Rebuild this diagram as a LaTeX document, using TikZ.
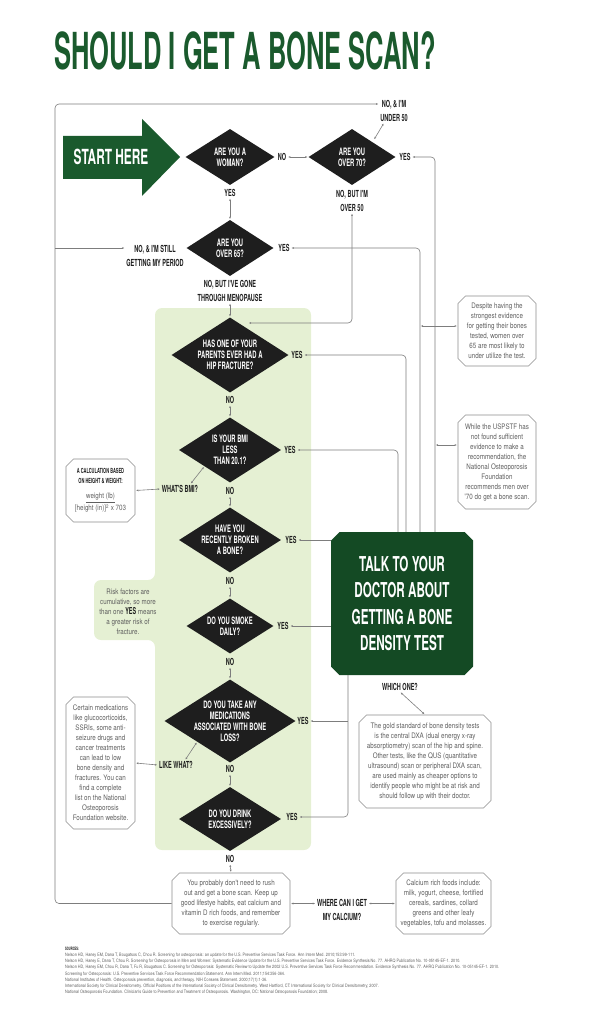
\documentclass[tikz,border=0pt]{standalone}
\usepackage{fontspec}
\usetikzlibrary{shapes.geometric,shapes.misc,arrows.meta}
\setmainfont{TeX Gyre Heros}
\newfontfamily\condbf{TeX Gyre Heros}[FakeStretch=0.57]
\newfontfamily\condrm{TeX Gyre Heros}[FakeStretch=0.82]
\newfontfamily\titlefont{TeX Gyre Heros}[FakeStretch=0.5]
\newcommand\hd{\condbf\bfseries}
\newcommand\nt{\condrm\mdseries\color{notetext}\fontsize{7.6}{10}\selectfont}
\newcommand\smallhd{\hd\color{ink}\fontsize{7}{10}\selectfont}
\definecolor{titlegreen}{RGB}{26,90,45}
\definecolor{boxgreen}{RGB}{20,74,36}
\definecolor{panel}{RGB}{229,240,211}
\definecolor{ink}{RGB}{30,30,30}
\definecolor{wire}{RGB}{125,125,125}
\definecolor{boxline}{RGB}{140,140,140}
\definecolor{notetext}{RGB}{95,95,95}

\begin{document}
\begin{tikzpicture}[x=1pt, y=-1pt,
	wee/.tip={Stealth[length=2.2pt,width=1.9pt]},
	wire/.style={draw=wire, line width=0.6pt},
	both/.style={wire, wee-wee, shorten <=1pt, shorten >=1pt},
	toLab/.style={wire, rounded corners=4pt, wee-, shorten <=1pt},
	ask/.style={diamond, fill=ink, inner sep=0pt},
	askText/.style={text=white, font=\hd\fontsize{10.2}{11}\selectfont, align=center, inner sep=0pt},
	ans/.style={text=ink, font=\hd\fontsize{9.7}{14}\selectfont, align=center, inner sep=1pt},
	note/.style={chamfered rectangle, chamfered rectangle xsep=4pt, draw=boxline, line width=0.6pt, inner sep=0pt, align=center, text=notetext, font=\nt},
	talk/.style={chamfered rectangle, chamfered rectangle xsep=5pt, fill=boxgreen, inner sep=0pt, align=center, text=white, font=\hd\fontsize{20.5}{26.5}\selectfont}]

		\useasboundingbox (0,0) rectangle (594,1024);

		\node[anchor=base west, inner sep=0pt, text=titlegreen, font=\titlefont\bfseries\fontsize{51}{51}\selectfont] (title) at (54,70) {SHOULD I GET A BONE SCAN?};

		% light green band behind the risk questions
		\fill[panel, rounded corners=7pt] (155,308) -- (311,308) -- (311,850) -- (155,850) -- (155,640) -- (94,640) -- (94,580) -- (155,580) -- cycle;

		\fill[titlegreen] (63,136) -- (142,136) -- (142,119) -- (180,157) -- (142,196) -- (142,179) -- (63,179) -- cycle;
		\node[text=white, font=\hd\fontsize{20.8}{22}\selectfont] (start) at (111,157) {START HERE};

		% questions
		\node[ask, minimum width=89pt, minimum height=56pt, label={[askText]center:{ARE YOU A\\WOMAN?}}] (woman) at (230,157) {};
		\node[ask, minimum width=87pt, minimum height=56pt, label={[askText]center:{ARE YOU\\OVER 70?}}] (over70) at (352,157) {};
		\node[ask, minimum width=87pt, minimum height=56pt, label={[askText]center:{ARE YOU\\OVER 65?}}] (over65) at (230,248) {};
		\node[ask, minimum width=117pt, minimum height=75pt, label={[askText]center:{HAS ONE OF YOUR\\PARENTS EVER HAD A\\HIP FRACTURE?}}] (parent) at (230,355) {};
		\node[ask, minimum width=102pt, minimum height=65pt, label={[askText]center:{IS YOUR BMI\\LESS\\THAN 20.1?}}] (bmi) at (230,450) {};
		\node[ask, minimum width=102pt, minimum height=65pt, label={[askText]center:{HAVE YOU\\RECENTLY BROKEN\\A BONE?}}] (broken) at (230,540) {};
		\node[ask, minimum width=87pt, minimum height=55pt, label={[askText]center:{DO YOU SMOKE\\DAILY?}}] (smoke) at (230,626) {};
		\node[ask, minimum width=131pt, minimum height=83pt, label={[askText]center:{DO YOU TAKE ANY\\MEDICATIONS\\ASSOCIATED WITH BONE\\LOSS?}}] (meds) at (230,721) {};
		\node[ask, minimum width=102pt, minimum height=64pt, label={[askText]center:{DO YOU DRINK\\EXCESSIVELY?}}] (drink) at (230,819) {};

		% answers
		\node[ans] (lNo1) at (282,157) {NO};
		\node[ans] (lYesW) at (230,193) {YES};
		\node[ans] (lUnder) at (394,111) {NO, \& I'M\\UNDER 50};
		\node[ans] (lYes70) at (405,157) {YES};
		\node[ans] (lOver50) at (352,201) {NO, BUT I'M\\OVER 50};
		\node[ans] (lYes65) at (284,248) {YES};
		\node[ans] (lPeriod) at (155,256) {NO, \& I'M STILL\\GETTING MY PERIOD};
		\node[ans] (lMeno) at (230,291) {NO, BUT I'VE GONE\\THROUGH MENOPAUSE};
		\node[ans] (lYesPar) at (297,355) {YES};
		\node[ans] (lNoPar) at (230,400) {NO};
		\node[ans] (lYesBMI) at (290,450) {YES};
		\node[ans] (lWhat) at (180,489) {WHAT'S BMI?};
		\node[ans] (lNoBMI) at (230,491) {NO};
		\node[ans] (lYesBro) at (291,540) {YES};
		\node[ans] (lNoBro) at (230,581) {NO};
		\node[ans] (lYesSmo) at (283,626) {YES};
		\node[ans] (lNoSmo) at (230,662) {NO};
		\node[ans] (lYesMed) at (303,721) {YES};
		\node[ans] (lLike) at (176,765) {LIKE WHAT?};
		\node[ans] (lNoMed) at (230,769) {NO};
		\node[ans] (lYesDri) at (292,817) {YES};
		\node[ans] (lNoDri) at (230,859) {NO};
		\node[ans] (lWhich) at (400,687) {WHICH ONE?};
		\node[ans] (lWhere) at (342,909.5) {WHERE CAN I GET\\MY CALCIUM?};

		\node[talk, minimum width=142pt, minimum height=143pt] (talk) at (402,603.5) {TALK TO YOUR\\DOCTOR ABOUT\\GETTING A BONE\\DENSITY TEST};

		% side notes
		\node[note, minimum width=69pt, minimum height=63pt] (bmiNote) at (100.5,490.5) {\smallhd A CALCULATION BASED\\\smallhd ON HEIGHT \& WEIGHT:\\[5pt]\underline{weight (lb)}\\[1pt]\mbox{[height (in)]\textsuperscript{2} x 703}};
		\node[note, minimum width=69pt, minimum height=132pt] (medNote) at (100.5,763) {Certain medications\\like glucocorticoids,\\SSRIs, some anti-\\seizure drugs and\\cancer treatments\\can lead to low\\bone density and\\fractures. You can\\find a complete\\list on the National\\Osteoporosis\\Foundation website.};
		\node[note, minimum width=78pt, minimum height=70pt] (despite) at (497,331) {Despite having the\\strongest evidence\\for getting their bones\\tested, women over\\65 are most likely to\\under utilize the test.};
		\node[note, minimum width=78pt, minimum height=94pt] (uspstf) at (497,462) {While the USPSTF has\\not found sufficient\\evidence to make a\\recommendation, the\\National Osteoporosis\\Foundation\\recommends men over\\'70 do get a bone scan.};
		\node[note, minimum width=132pt, minimum height=93pt] (dxa) at (425,761.5) {The gold standard of bone density tests\\is the central DXA (dual energy x-ray\\absorptiometry) scan of the hip and spine.\\Other tests, like the QUS (quantitative\\ultrasound) scan or peripheral DXA scan,\\are used mainly as cheaper options to\\identify people who might be at risk and\\should follow up with their doctor.};
		\node[note, minimum width=118pt, minimum height=61pt] (rush) at (231,903.5) {You probably don't need to rush\\out and get a bone scan. Keep up\\good lifestye habits, eat calcium and\\vitamin D rich foods, and remember\\to exercise regularly.};
		\node[note, minimum width=95pt, minimum height=61pt] (calcium) at (443.5,903.5) {Calcium rich foods include:\\milk, yogurt, cheese, fortified\\cereals, sardines, collard\\greens and other leafy\\vegetables, tofu and molasses.};
		\node[align=center, inner sep=0pt, font=\nt] (risk) at (128,612) {Risk factors are\\cumulative, so more\\than one \mbox{\hd\color{ink}\fontsize{9.5}{10}\selectfont YES} means\\a greater risk of\\fracture.};

		% turning points of the long lines
		\coordinate (topL) at (55,104);
		\coordinate (perL) at (55,248);
		\coordinate (botL) at (55,903.5);
		\coordinate (r70) at (435,157);
		\coordinate (r65) at (420,248);
		\coordinate (rPar) at (406,355);
		\coordinate (rBMI) at (398,450);
		\coordinate (rMed) at (348,721);
		\coordinate (rDri) at (348,817);
		\coordinate (o50) at (352,323);
		\coordinate (o50end) at (248,323);
		\coordinate (d65) at (420,326);
		\coordinate (d70) at (435,445);

		\draw[toLab] (lUnder.west |- topL) -- (topL) -- (botL) -- (rush.west);
		\draw[toLab] (lPeriod.west |- perL) -- (perL);
		\draw[toLab] (lYes70.east) -- (r70) -- (r70 |- talk.north);
		\draw[toLab] (lYes65.east) -- (r65) -- (r65 |- talk.north);
		\draw[toLab] (lYesPar.east) -- (rPar) -- (rPar |- talk.north);
		\draw[toLab] (lYesBMI.east) -- (rBMI) -- (rBMI |- talk.north);
		\draw[toLab] (lYesBro.east) -- (lYesBro.east -| talk.west);
		\draw[toLab] (lYesSmo.east) -- (lYesSmo.east -| talk.west);
		\draw[toLab] (lYesDri.east) -- (rDri) -- (rDri |- talk.south);
		\draw[toLab] (lYesMed.east) -- (rMed);
		\draw[both, rounded corners=4pt] (lOver50.south) -- (o50) -- (o50end);
		\draw[both] (d65) -- (d65 -| despite.west);
		\draw[both] (d70) -- (d70 -| uspstf.west);

		\draw[both] (lNo1.east) -- (over70.west);
		\draw[both] ([yshift=3pt]over70.north east) -- ([xshift=-10pt]lUnder.south);
		\draw[both] (lYesW.south) -- (over65.north);
		\draw[both] (lMeno.south) -- (parent.north);
		\draw[both] (lNoPar.south) -- (bmi.north);
		\draw[both] (lNoBMI.south) -- (broken.north);
		\draw[both] (lNoBro.south) -- (smoke.north);
		\draw[both] (lNoSmo.south) -- (meds.north);
		\draw[both] (lNoMed.south) -- (drink.north);
		\draw[both] (lNoDri.south) -- (rush.north);
		\draw[both] (bmi.south west) -- ([xshift=-9pt]lWhat.north east);
		\draw[both] (lWhat.west) -- (bmiNote.east);
		\draw[both] (meds.south west) -- ([xshift=-9pt]lLike.north east);
		\draw[both] (lLike.west) -- (medNote.east);
		\draw[both] (lWhich.south) -- (dxa.north);
		\draw[both] (rush.east) -- (rush.east -| lWhere.west);
		\draw[both] (rush.east -| lWhere.east) -- (rush.east -| calcium.west);

		\node[anchor=north west, align=left, inner sep=0pt, font=\condrm\color{notetext}\fontsize{4.6}{6.1}\selectfont] (sources) at (65,947) {\mbox{\hd\color{ink}SOURCES:}\\
Nelson HD, Haney EM, Dana T, Bougatsos C, Chou R. Screening for osteoporosis: an update for the U.S. Preventive Services Task Force. Ann Intern Med. 2010;153:99-111.\\
Nelson HD, Haney E, Dana T, Chou R. Screening for Osteoporosis in Men and Women: Systematic Evidence Update for the U.S. Preventive Services Task Force. Evidence Synthesis No. 77. AHRQ Publication No. 10-05145-EF-1. 2010.\\
Nelson HD, Haney EM, Chou R, Dana T, Fu R, Bougatsos C. Screening for Osteoporosis: Systematic Review to Update the 2002 U.S. Preventive Services Task Force Recommendation. Evidence Synthesis No. 77. AHRQ Publication No. 10-05145-EF-1. 2010.\\
Screening for Osteoporosis: U.S. Preventive Services Task Force Recommendation Statement. Ann Intern Med. 2011;154:356-364.\\
National Institutes of Health. Osteoporosis prevention, diagnosis, and therapy. NIH Consens Statement. 2000;17(1):1-36.\\
International Society for Clinical Densitometry. Official Positions of the International Society of Clinical Densitometry. West Hartford, CT: International Society for Clinical Densitometry; 2007.\\
National Osteoporosis Foundation. Clinician's Guide to Prevention and Treatment of Osteoporosis. Washington, DC: National Osteoporosis Foundation; 2008.};

\end{tikzpicture}
\end{document}
